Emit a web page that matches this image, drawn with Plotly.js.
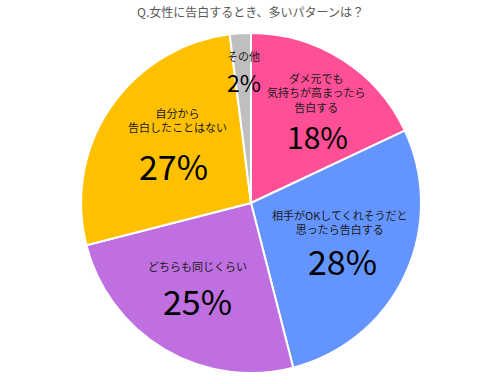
<!DOCTYPE html>
<html>
<head>
<meta charset="utf-8">
<script src="https://cdn.plot.ly/plotly-3.0.1.min.js"></script>
<style>html,body{margin:0;padding:0;background:#fff;}#chart{width:501px;height:384px;}</style>
</head>
<body>
<div id="chart"></div>
<script>
const categories = ["ダメ元でも<br>気持ちが高まったら<br>告白する", "相手がOKしてくれそうだと<br>思ったら告白する", "どちらも同じくらい", "自分から<br>告白したことはない", "その他"];
const values = [18, 28, 25, 27, 2];
const sliceColors = ["#FF4F96", "#6495FF", "#BF6FE0", "#FFC000", "#BFBFBF"];
const chartTitle = "Q.女性に告白するとき、多いパターンは？";

const W = 501, H = 384;
const cx = 251, cy = 203, R = 170;
const px = x => x / W;
const py = y => 1 - y / H;

// label / percent anchor pixels (layout only)
const labelPos = [[316, 92], [340, 222], [197, 266], [177, 120], [243, 56]];
const pctPos = [[317, 136], [342, 260], [197, 300], [173, 165], [244, 82]];
const pctSize = [30, 34, 34, 34, 23];
const FONT = "'Noto Sans CJK JP', 'Noto Sans', sans-serif";

const annotations = [];
categories.forEach((c, i) => {
  annotations.push({
    xref: 'paper', yref: 'paper', x: px(labelPos[i][0]), y: py(labelPos[i][1]),
    text: c, showarrow: false, xanchor: 'center', yanchor: 'middle', align: 'center',
    font: {family: FONT, size: 11, color: '#1a1a1a'}
  });
  annotations.push({
    xref: 'paper', yref: 'paper', x: px(pctPos[i][0]), y: py(pctPos[i][1]),
    text: values[i] + '%', showarrow: false, xanchor: 'center', yanchor: 'middle',
    font: {family: FONT, size: pctSize[i], color: '#000'}
  });
});

const trace = {
  type: 'pie',
  values: values,
  labels: categories,
  sort: false,
  direction: 'clockwise',
  rotation: 0,
  textinfo: 'none',
  hoverinfo: 'none',
  marker: {colors: sliceColors, line: {color: '#ffffff', width: 2}},
  domain: {x: [px(cx - R), px(cx + R)], y: [py(cy + R), py(cy - R)]}
};

const layout = {
  width: W, height: H,
  margin: {l: 0, r: 0, t: 0, b: 0},
  showlegend: false,
  paper_bgcolor: '#fff',
  title: {text: chartTitle, x: 0.5, xanchor: 'center', y: 1 - 13 / H, yanchor: 'middle', yref: 'container',
    font: {family: FONT, size: 12, color: '#595959'}},
  annotations: annotations
};

Plotly.newPlot('chart', [trace], layout, {displayModeBar: false, staticPlot: true});
</script>
</body>
</html>
